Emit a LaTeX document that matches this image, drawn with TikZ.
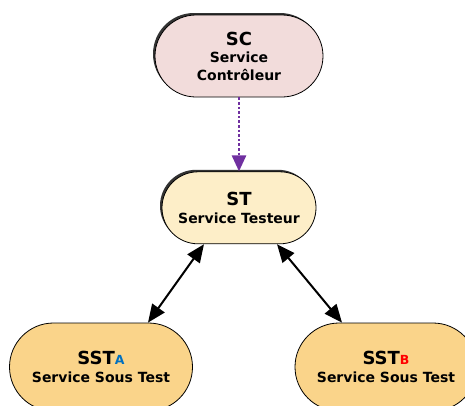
\documentclass[tikz,border=0pt]{standalone}
\usepackage{fontspec}
\setmainfont{DejaVu Sans}
\usepackage{xcolor}
\usepackage{tikz}
\usetikzlibrary{shapes.misc, arrows.meta, positioning, calc, shadows}
\definecolor{scfill}{HTML}{F2DCDB}
\definecolor{stfill}{HTML}{FDEEC8}
\definecolor{sstfill}{HTML}{FAD48A}
\definecolor{linkpurple}{HTML}{7030A0}
\definecolor{letterblue}{HTML}{0070C0}
\newcommand{\titlefont}{\fontsize{18}{18}\selectfont\bfseries}
\newcommand{\subfont}{\fontsize{14}{17.5}\selectfont\bfseries}
\newcommand{\tagfont}{\fontsize{12.5}{12.5}\selectfont\bfseries}

\begin{document}
\begin{tikzpicture}[x=1pt, y=-1pt,
        svc/.style={rounded rectangle, draw, line width=0.8pt, align=center, inner sep=0pt, font=\subfont},
        shade/.style={drop shadow={shadow xshift=-2pt, shadow yshift=2pt, fill=black!80, opacity=1}},
        arrow/.style={{Triangle[length=18pt,width=15pt]}-{Triangle[length=18pt,width=15pt]}, line width=2pt},
        dotarrow/.style={-{Triangle[length=16pt,width=14pt]}, dotted, line width=2.6pt, color=linkpurple}]
        \path[use as bounding box, clip] (0,0) rectangle (465,405);
        \node[svc, shade, fill=scfill, minimum width=168pt, minimum height=82pt] (sc) at (239,56)
            {{\titlefont SC}\\Service\\Contrôleur};
        \node[svc, shade, fill=stfill, minimum width=154pt, minimum height=72pt, below=74pt of sc] (st)
            {{\titlefont ST}\\Service Testeur};
        \node[svc, fill=sstfill, minimum width=183pt, minimum height=88pt] (ssta) at (101,367)
            {{\titlefont SST{\tagfont\color{letterblue}A}}\\Service Sous Test};
        \node[svc, fill=sstfill, minimum width=182pt, minimum height=88pt] (sstb) at (386,367)
            {{\titlefont SST{\tagfont\color{red}B}}\\Service Sous Test};

        \draw[dotarrow] (sc.south) -- (st.north);
        \draw[arrow] ($(st.south)+(-35,0)$) -- ($(ssta.north)+(47,0)$);
        \draw[arrow] ($(st.south)+(38,0)$) -- ($(sstb.north)+(-44,0)$);
    \end{tikzpicture}
\end{document}
